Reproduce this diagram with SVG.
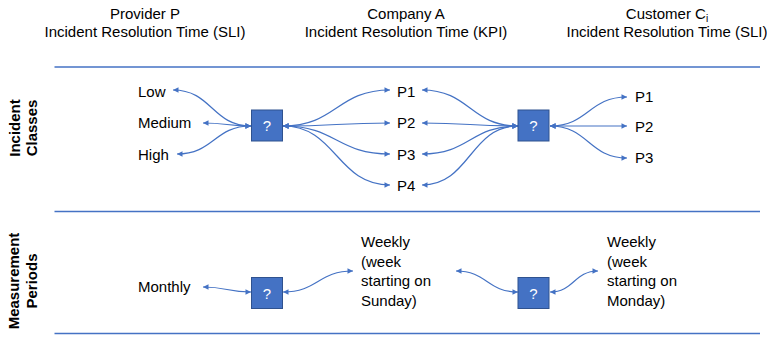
<svg xmlns="http://www.w3.org/2000/svg" width="767" height="337" viewBox="0 0 767 337">
<style>
text{font-family:"Liberation Sans",Arial,sans-serif;font-size:15px;fill:#000}
.hd{text-anchor:middle}
.side{font-weight:bold;text-anchor:middle}
.q{fill:#fff;text-anchor:middle}
.box{fill:#4472C4;stroke:#2F528F;stroke-width:1}
.sep{stroke:#4472C4;stroke-width:1.3;fill:none}
.c{stroke:#4472C4;stroke-width:1.2;fill:none;marker-start:url(#ah);marker-end:url(#ah)}
</style>
<defs>
<marker id="ah" viewBox="0 0 10 10" refX="10" refY="5" markerWidth="6.5" markerHeight="5.5" markerUnits="userSpaceOnUse" orient="auto-start-reverse">
<path d="M0,0 L10,5 L0,10 z" fill="#4472C4"/>
</marker>
</defs>
<g id="headers">
<text class="hd" x="145" y="18.5">Provider P</text>
<text class="hd" x="145" y="36.5">Incident Resolution Time (SLI)</text>
<text class="hd" x="406" y="18.5">Company A</text>
<text class="hd" x="406" y="36.5">Incident Resolution Time (KPI)</text>
<text class="hd" x="667" y="18.5">Customer C<tspan font-size="10" dy="3">i</tspan></text>
<text class="hd" x="667" y="36.5">Incident Resolution Time (SLI)</text>
</g>
<g id="separators">
<line class="sep" x1="54.5" y1="67" x2="760" y2="67"/>
<line class="sep" x1="54.5" y1="211.5" x2="760" y2="211.5"/>
<line class="sep" x1="54.5" y1="333.5" x2="760" y2="333.5"/>
</g>
<g id="row-labels">
<text class="side" transform="translate(19.5,128) rotate(-90)">Incident</text>
<text class="side" transform="translate(37,128) rotate(-90)">Classes</text>
<text class="side" transform="translate(18.5,281) rotate(-90)">Measurement</text>
<text class="side" transform="translate(36.5,281) rotate(-90)">Periods</text>
</g>
<g id="connectors">
<path class="c" d="M251,126 C212,126 212,90 173,90"/>
<path class="c" d="M251,126 C227,126 227,123 203,123"/>
<path class="c" d="M251,126 C214,126 214,154 177,154"/>
<path class="c" d="M283,126 C336.5,126 336.5,90 390,90"/>
<path class="c" d="M283,126 C336.5,126 336.5,123 390,123"/>
<path class="c" d="M283,126 C336.5,126 336.5,154 390,154"/>
<path class="c" d="M283,126 C336.5,126 336.5,185 390,185"/>
<path class="c" d="M518,126 C470,126 470,90 422,90"/>
<path class="c" d="M518,126 C470,126 470,123 422,123"/>
<path class="c" d="M518,126 C470,126 470,154 422,154"/>
<path class="c" d="M518,126 C470,126 470,185 422,185"/>
<path class="c" d="M550,126 C588.5,126 588.5,97 627,97"/>
<path class="c" d="M550,126 L627,126"/>
<path class="c" d="M550,126 C588.5,126 588.5,158 627,158"/>
<path class="c" d="M251,292 C227,292 227,287 203,287"/>
<path class="c" d="M283,292 C318,292 318,271 353,271"/>
<path class="c" d="M518,292 C487,292 487,271 456,271"/>
<path class="c" d="M550,292 C574,292 574,271 598,271"/>
</g>
<g id="provider-classes">
<text x="138" y="97">Low</text>
<text x="138" y="128">Medium</text>
<text x="138" y="159.5">High</text>
</g>
<g id="box-provider-classes">
<rect class="box" x="251.5" y="110" width="31" height="31"/>
<text class="q" x="267" y="131">?</text>
</g>
<g id="company-classes">
<text x="397" y="96.5">P1</text>
<text x="397" y="128">P2</text>
<text x="397" y="159.5">P3</text>
<text x="397" y="191">P4</text>
</g>
<g id="box-customer-classes">
<rect class="box" x="518" y="110" width="31" height="31"/>
<text class="q" x="533.5" y="131">?</text>
</g>
<g id="customer-classes">
<text x="635" y="102">P1</text>
<text x="635" y="132">P2</text>
<text x="635" y="163">P3</text>
</g>
<g id="provider-period">
<text x="138" y="292">Monthly</text>
</g>
<g id="box-provider-period">
<rect class="box" x="251.5" y="277.5" width="31" height="31"/>
<text class="q" x="267" y="298.5">?</text>
</g>
<g id="company-period">
<text x="361" y="247">Weekly</text>
<text x="361" y="266.5">(week</text>
<text x="361" y="286">starting on</text>
<text x="361" y="305.5">Sunday)</text>
</g>
<g id="box-customer-period">
<rect class="box" x="518" y="277.5" width="31" height="31"/>
<text class="q" x="533.5" y="298.5">?</text>
</g>
<g id="customer-period">
<text x="607" y="247">Weekly</text>
<text x="607" y="266.5">(week</text>
<text x="607" y="286">starting on</text>
<text x="607" y="305.5">Monday)</text>
</g>
</svg>
